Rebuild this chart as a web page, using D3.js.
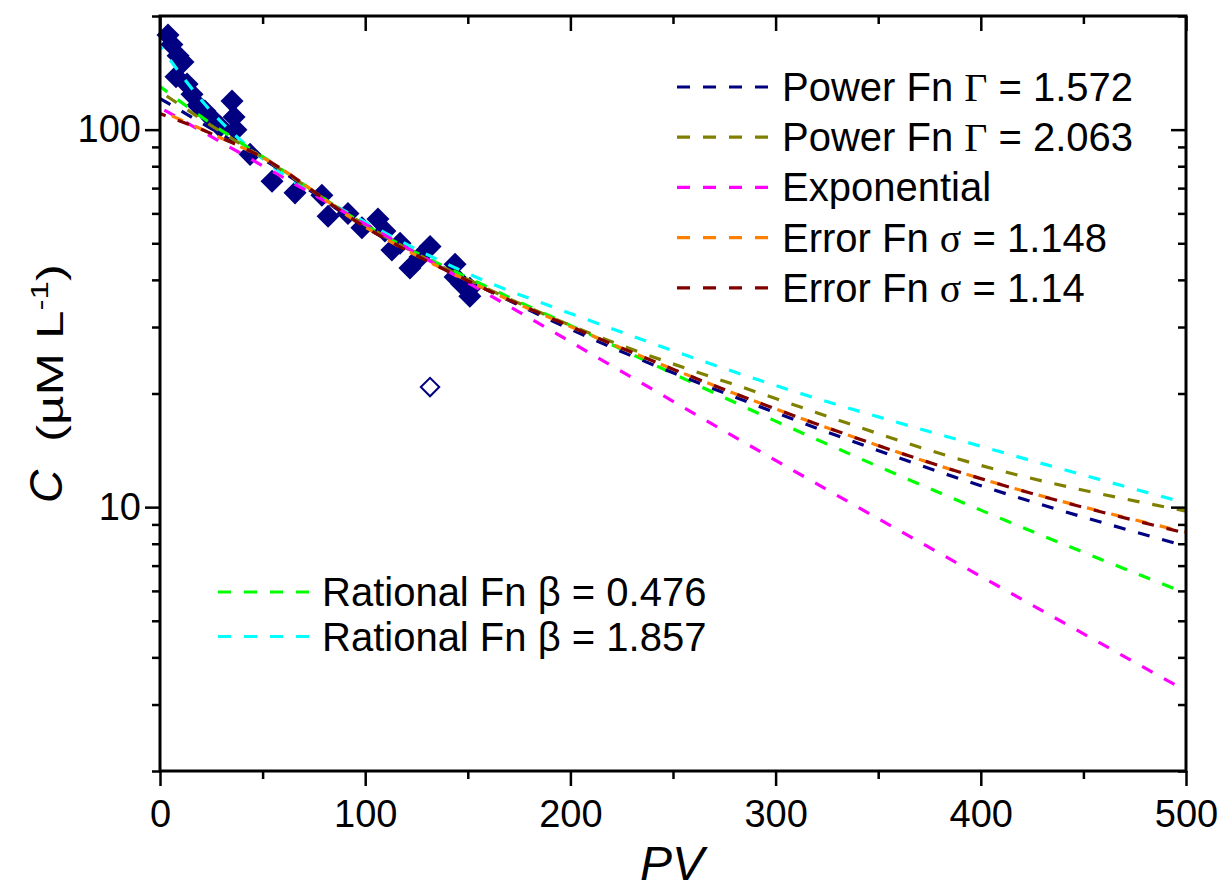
<!DOCTYPE html>
<html>
<head>
<meta charset="utf-8">
<script src="https://cdn.jsdelivr.net/npm/d3@7"></script>
<style>
  body { margin: 0; background: #fff; }
  svg text { font-family: "Liberation Sans", Arial, sans-serif; fill: #000; }
</style>
</head>
<body>
<svg id="chart" width="1225" height="880"></svg>
<script>

// measured points (PV, C)
var pvData   = [3.9, 5.8, 8.8, 11.2, 7.8, 13.2, 15.6, 18.5, 21.9, 25.3, 29.2, 35.1, 36.1, 37, 43.9,
                54.6, 65.8, 78.9, 81.9, 91.6, 98.4, 106.2, 109.6, 113, 117, 121.8, 126.7, 131.6, 143.8, 143.8, 147, 151, 151];
var concData = [178, 168, 157, 151, 138, 132, 124, 116, 112, 107, 102, 119, 108, 100, 86,
                73, 68, 67, 59, 60, 55, 58, 53.9, 48, 50, 43, 46, 49, 44, 40.7, 39, 38, 36.2];

// the outlier (open symbol)
var outlierPV = [131.6];
var outlierC  = [20.8];

var fitPV = [0, 25, 50, 100, 160, 200, 300, 400, 500];
var powerA    = [120.9, 100.6, 83.7, 55.2, 37.5, 29.6, 17.8, 11.4, 7.88];
var powerB    = [126.2, 102.5, 84.3, 55.9, 37.8, 30.3, 19.4, 12.9, 9.76];
var errorA    = [112.3, 97.6, 84.3, 55.2, 37.5, 30.1, 18.2, 11.9, 8.58];
var errorB    = [110.3, 97.6, 84.3, 55.2, 37.5, 30.1, 18.2, 11.9, 8.53];
var rationalA = [130.1, 103.7, 84.8, 55.9, 38.2, 30.3, 16.9, 9.82, 5.91];
var rationalB = [166.3, 111.7, 83.7, 56.9, 39.4, 32.6, 21.0, 14.5, 10.25];
var expPV = [0, 160, 300, 500];
var expC  = [114.4, 36.6, 13.3, 3.26];

var xMajor = [0, 100, 200, 300, 400, 500];
var xMinor = [50, 150, 250, 350, 450];
var yMajor = [10, 100];
var yMinor = [2, 3, 4, 5, 6, 7, 8, 9, 20, 30, 40, 50, 60, 70, 80, 90, 200];

var series = [
  { key: "rationalB", x: fitPV, y: rationalB, color: "#00ffff", off: 8 },
  { key: "rationalA", x: fitPV, y: rationalA, color: "#00ff00", off: 3 },
  { key: "powerA",    x: fitPV, y: powerA,    color: "#000080", off: 0 },
  { key: "powerB",    x: fitPV, y: powerB,    color: "#808000", off: 17 },
  { key: "exp",       x: expPV, y: expC,      color: "#ff00ff", off: 20 },
  { key: "errorA",    x: fitPV, y: errorA,    color: "#ff8000", off: 12 },
  { key: "errorB",    x: fitPV, y: errorB,    color: "#800000", off: 6 }
];

var legendRight = [
  { pre: "Power Fn ", greek: "\u0393", post: " = 1.572", color: "#000080", serif: true },
  { pre: "Power Fn ", greek: "\u0393", post: " = 2.063", color: "#808000", serif: true },
  { pre: "Exponential", greek: "", post: "", color: "#ff00ff", serif: false },
  { pre: "Error Fn ", greek: "\u03c3", post: " = 1.148", color: "#ff8000", serif: true },
  { pre: "Error Fn ", greek: "\u03c3", post: " = 1.14", color: "#800000", serif: true }
];
var legendLeft = [
  { pre: "Rational Fn ", greek: "\u03b2", post: " = 0.476", color: "#00ff00", serif: false },
  { pre: "Rational Fn ", greek: "\u03b2", post: " = 1.857", color: "#00ffff", serif: false }
];

var svg = d3.select("#chart");
var pLeft = 160, pRight = 1186, pTop = 16, pBottom = 771;

var x = d3.scaleLinear().domain([0, 500]).range([pLeft, pRight]);
var y = d3.scaleLog().domain([2, 200]).range([pBottom, pTop]);

svg.append("defs").append("clipPath").attr("id", "plotclip")
  .append("rect").attr("x", pLeft).attr("y", pTop).attr("width", pRight - pLeft).attr("height", pBottom - pTop);

// data points
var diamond = d3.symbol().type(d3.symbolSquare).size(265);
svg.append("g").selectAll("path.pt")
  .data(pvData.map(function(v, i) { return [v, concData[i]]; }))
  .enter().append("path")
  .attr("class", "pt")
  .attr("d", diamond)
  .attr("transform", function(d) { return "translate(" + x(d[0]) + "," + y(d[1]) + ") rotate(45)"; })
  .attr("fill", "#000080");

svg.append("g").selectAll("path.out")
  .data(outlierPV.map(function(v, i) { return [v, outlierC[i]]; }))
  .enter().append("path")
  .attr("d", d3.symbol().type(d3.symbolSquare).size(170))
  .attr("transform", function(d) { return "translate(" + x(d[0]) + "," + y(d[1]) + ") rotate(45)"; })
  .attr("fill", "#fff").attr("stroke", "#000080").attr("stroke-width", 2);

// fitted curves
var line = d3.line().curve(d3.curveMonotoneX)
  .x(function(d) { return x(d[0]); })
  .y(function(d) { return y(d[1]); });

svg.append("g").attr("clip-path", "url(#plotclip)").selectAll("path.fit")
  .data(series).enter().append("path")
  .attr("class", "fit")
  .attr("d", function(s) { return line(s.x.map(function(v, i) { return [v, s.y[i]]; })); })
  .attr("fill", "none")
  .attr("stroke", function(s) { return s.color; })
  .attr("stroke-width", 3.2)
  .attr("stroke-dasharray", "12,13")
  .attr("stroke-dashoffset", function(s) { return s.off; });

// axes
function styleAxis(g, labels) {
  g.select(".domain").remove();
  g.selectAll(".tick line").attr("stroke", "#000").attr("stroke-width", 2.5);
  if (!labels) g.selectAll(".tick text").remove();
  else g.selectAll(".tick text").style("font-size", "38px").attr("fill", "#000");
}

svg.append("g").attr("transform", "translate(0," + pBottom + ")")
  .call(d3.axisBottom(x).tickValues(xMajor).tickSize(15).tickPadding(14).tickFormat(d3.format("d")))
  .call(styleAxis, true);
svg.append("g").attr("transform", "translate(0," + pBottom + ")")
  .call(d3.axisBottom(x).tickValues(xMinor).tickSize(8))
  .call(styleAxis, false);
svg.append("g").attr("transform", "translate(0," + pTop + ")")
  .call(d3.axisTop(x).tickValues(xMajor).tickSize(-15))
  .call(styleAxis, false);
svg.append("g").attr("transform", "translate(0," + pTop + ")")
  .call(d3.axisTop(x).tickValues(xMinor).tickSize(-8))
  .call(styleAxis, false);

svg.append("g").attr("transform", "translate(" + pLeft + ",0)")
  .call(d3.axisLeft(y).tickValues(yMajor).tickSize(15).tickPadding(4).tickFormat(d3.format("d")))
  .call(styleAxis, true);
svg.append("g").attr("transform", "translate(" + pLeft + ",0)")
  .call(d3.axisLeft(y).tickValues(yMinor).tickSize(8))
  .call(styleAxis, false);
svg.append("g").attr("transform", "translate(" + pRight + ",0)")
  .call(d3.axisRight(y).tickValues(yMajor).tickSize(-15))
  .call(styleAxis, false);
svg.append("g").attr("transform", "translate(" + pRight + ",0)")
  .call(d3.axisRight(y).tickValues(yMinor).tickSize(-8))
  .call(styleAxis, false);

// frame
svg.append("rect")
  .attr("x", pLeft).attr("y", pTop).attr("width", pRight - pLeft).attr("height", pBottom - pTop)
  .attr("fill", "none").attr("stroke", "#000").attr("stroke-width", 3);

// axis titles
svg.append("text")
  .attr("x", (pLeft + pRight) / 2 - 1).attr("y", 880)
  .attr("text-anchor", "middle")
  .style("font-size", "48px").style("font-style", "italic")
  .text("PV");

svg.append("text")
  .attr("transform", "translate(62,503) rotate(-90)")
  .style("font-size", "46px").style("font-style", "italic")
  .text("C");
var yt = svg.append("text")
  .attr("transform", "translate(63,442) rotate(-90) scale(1.38,1)")
  .style("font-size", "37px");
yt.append("tspan").attr("xml:space", "preserve").text("(\u00b5M L");
yt.append("tspan").style("font-size", "24px").attr("dy", -15).text("-1");
yt.append("tspan").attr("dy", 15).text(")");

// legends
function drawLegend(items, x0, x1, tx, y0, step) {
  var g = svg.append("g");
  items.forEach(function(d, i) {
    var ly = y0 + i * step;
    g.append("line")
      .attr("x1", x0).attr("x2", x1).attr("y1", ly).attr("y2", ly)
      .attr("stroke", d.color).attr("stroke-width", 3.2)
      .attr("stroke-dasharray", "13,13");
    var t = g.append("text").attr("x", tx).attr("y", ly + 14).style("font-size", "40px");
    t.append("tspan").attr("xml:space", "preserve").text(d.pre);
    if (d.greek) {
      t.append("tspan")
        .style("font-family", d.serif ? "'Liberation Serif', 'Times New Roman', serif" : null)
        .text(d.greek);
      t.append("tspan").attr("xml:space", "preserve").text(d.post);
    }
  });
}
drawLegend(legendRight, 677, 770, 782, 87, 50.2);
drawLegend(legendLeft, 218, 310, 322, 592, 44.5);

</script>
</body>
</html>
